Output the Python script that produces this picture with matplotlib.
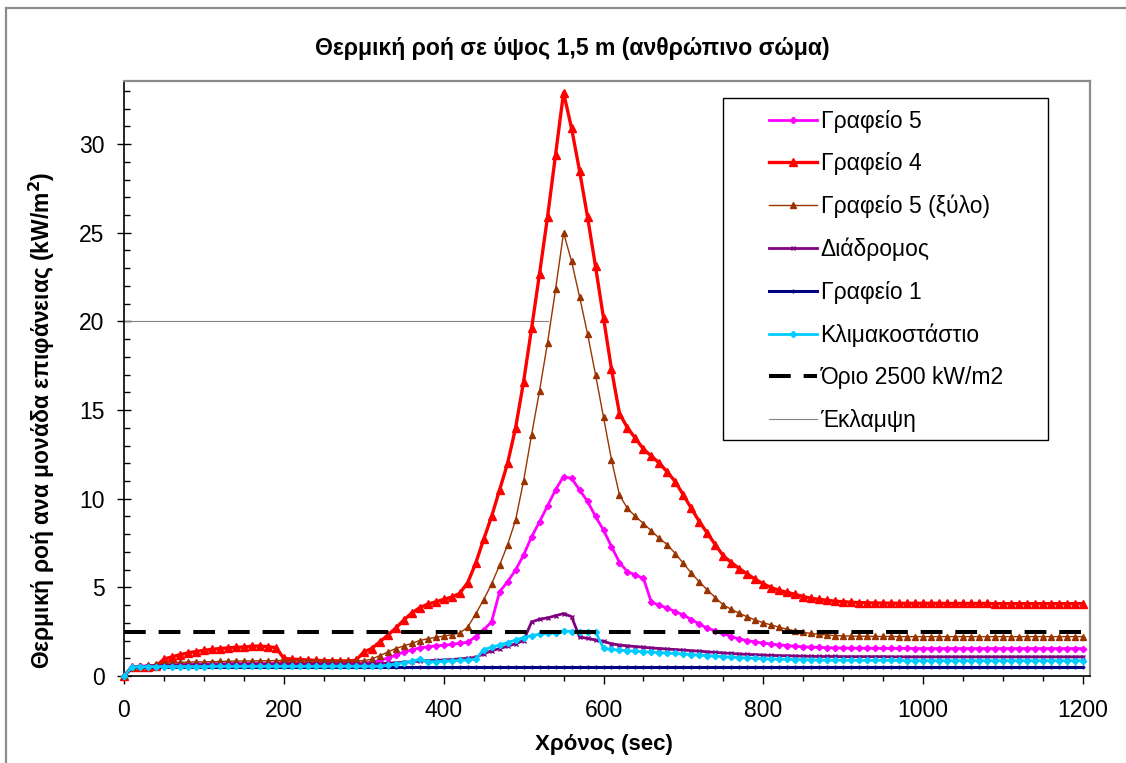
import matplotlib
matplotlib.use("Agg")
import matplotlib.pyplot as plt
from matplotlib.patches import Rectangle
from matplotlib.ticker import MultipleLocator

plt.rcParams['font.family'] = ['Liberation Sans', 'DejaVu Sans']

# Sampling times (s)
time_s = [0, 10, 20, 30, 40, 50, 60, 70, 80, 90,
          100, 110, 120, 130, 140, 150, 160, 170, 180, 190,
          200, 210, 220, 230, 240, 250, 260, 270, 280, 290,
          300, 310, 320, 330, 340, 350, 360, 370, 380, 390,
          400, 410, 420, 430, 440, 450, 460, 470, 480, 490,
          500, 510, 520, 530, 540, 550, 560, 570, 580, 590,
          600, 610, 620, 630, 640, 650, 660, 670, 680, 690,
          700, 710, 720, 730, 740, 750, 760, 770, 780, 790,
          800, 810, 820, 830, 840, 850, 860, 870, 880, 890,
          900, 910, 920, 930, 940, 950, 960, 970, 980, 990,
          1000, 1010, 1020, 1030, 1040, 1050, 1060, 1070, 1080, 1090,
          1100, 1110, 1120, 1130, 1140, 1150, 1160, 1170, 1180, 1190,
          1200]

# Heat flux at 1.5 m (kW/m2)
grafeio5 = [0.0, 0.50, 0.55, 0.58, 0.60, 0.62, 0.64, 0.65, 0.66, 0.67,
            0.68, 0.69, 0.70, 0.70, 0.71, 0.71, 0.72, 0.72, 0.72, 0.73,
            0.73, 0.73, 0.73, 0.73, 0.73, 0.73, 0.73, 0.73, 0.73, 0.73,
            0.74, 0.78, 0.88, 1.00, 1.18, 1.35, 1.48, 1.58, 1.65, 1.70,
            1.74, 1.78, 1.85, 1.90, 2.22, 2.60, 3.06, 4.75, 5.32, 5.98,
            6.82, 7.85, 8.70, 9.60, 10.50, 11.25, 11.15, 10.50, 9.85, 9.00,
            8.23, 7.30, 6.40, 5.88, 5.70, 5.50, 4.15, 4.00, 3.82, 3.63,
            3.44, 3.18, 2.93, 2.69, 2.55, 2.40, 2.22, 2.08, 2.00, 1.92,
            1.86, 1.80, 1.76, 1.72, 1.68, 1.65, 1.63, 1.61, 1.60, 1.59,
            1.58, 1.57, 1.57, 1.57, 1.56, 1.56, 1.56, 1.56, 1.56, 1.55,
            1.55, 1.55, 1.55, 1.55, 1.55, 1.55, 1.55, 1.55, 1.55, 1.55,
            1.55, 1.55, 1.55, 1.55, 1.55, 1.55, 1.55, 1.55, 1.55, 1.55,
            1.55]

grafeio4 = [0.0, 0.50, 0.50, 0.52, 0.55, 0.95, 1.08, 1.20, 1.30, 1.38,
            1.45, 1.50, 1.55, 1.58, 1.62, 1.63, 1.68, 1.69, 1.65, 1.60,
            1.00, 0.95, 0.93, 0.90, 0.88, 0.87, 0.86, 0.85, 0.85, 0.88,
            1.35, 1.55, 1.92, 2.30, 2.70, 3.15, 3.55, 3.85, 4.05, 4.18,
            4.32, 4.45, 4.66, 5.26, 6.35, 7.70, 9.00, 10.50, 12.00, 14.00,
            16.60, 19.60, 22.70, 25.90, 29.40, 32.90, 30.90, 28.50, 25.90, 23.10,
            20.20, 17.30, 14.80, 14.00, 13.40, 12.80, 12.40, 12.00, 11.50, 10.95,
            10.20, 9.45, 8.70, 8.05, 7.40, 6.77, 6.40, 6.05, 5.75, 5.45,
            5.20, 4.98, 4.83, 4.72, 4.60, 4.48, 4.38, 4.32, 4.27, 4.22,
            4.19, 4.16, 4.14, 4.13, 4.12, 4.11, 4.11, 4.10, 4.10, 4.10,
            4.10, 4.10, 4.10, 4.09, 4.09, 4.09, 4.09, 4.09, 4.09, 4.08,
            4.08, 4.08, 4.08, 4.08, 4.08, 4.08, 4.08, 4.08, 4.08, 4.08,
            4.08]

grafeio5_xylo = [0.0, 0.50, 0.55, 0.60, 0.65, 0.70, 0.75, 0.77, 0.78, 0.80,
                 0.80, 0.81, 0.82, 0.83, 0.84, 0.85, 0.85, 0.86, 0.86, 0.87,
                 0.87, 0.87, 0.86, 0.86, 0.85, 0.85, 0.85, 0.85, 0.85, 0.85,
                 0.86, 0.95, 1.15, 1.35, 1.55, 1.69, 1.84, 2.00, 2.10, 2.18,
                 2.25, 2.33, 2.42, 2.75, 3.50, 4.30, 5.20, 6.25, 7.40, 8.80,
                 11.00, 13.60, 16.10, 18.80, 21.80, 25.00, 23.40, 21.40, 19.30, 17.00,
                 14.60, 12.20, 10.20, 9.45, 9.00, 8.60, 8.18, 7.76, 7.40, 6.90,
                 6.35, 5.80, 5.30, 4.85, 4.42, 4.00, 3.76, 3.53, 3.34, 3.16,
                 3.00, 2.88, 2.75, 2.64, 2.54, 2.46, 2.40, 2.35, 2.31, 2.28,
                 2.26, 2.25, 2.24, 2.24, 2.23, 2.23, 2.23, 2.22, 2.22, 2.22,
                 2.22, 2.22, 2.22, 2.22, 2.22, 2.22, 2.22, 2.22, 2.22, 2.22,
                 2.22, 2.22, 2.22, 2.22, 2.22, 2.22, 2.22, 2.22, 2.22, 2.22,
                 2.22]

diadromos = [0.0, 0.50, 0.52, 0.55, 0.57, 0.59, 0.60, 0.61, 0.62, 0.63,
             0.63, 0.64, 0.64, 0.65, 0.65, 0.65, 0.66, 0.66, 0.66, 0.66,
             0.67, 0.67, 0.67, 0.67, 0.67, 0.67, 0.67, 0.67, 0.67, 0.67,
             0.67, 0.68, 0.70, 0.72, 0.75, 0.77, 0.80, 0.83, 0.86, 0.88,
             0.90, 0.93, 0.96, 1.00, 1.05, 1.25, 1.42, 1.55, 1.68, 1.82,
             2.00, 3.05, 3.20, 3.28, 3.40, 3.52, 3.35, 2.20, 2.12, 2.03,
             1.95, 1.82, 1.74, 1.70, 1.66, 1.62, 1.58, 1.55, 1.52, 1.49,
             1.46, 1.43, 1.40, 1.36, 1.33, 1.30, 1.27, 1.24, 1.22, 1.20,
             1.18, 1.16, 1.15, 1.14, 1.13, 1.12, 1.11, 1.10, 1.10, 1.10,
             1.09, 1.09, 1.09, 1.09, 1.09, 1.09, 1.08, 1.08, 1.08, 1.08,
             1.08, 1.08, 1.08, 1.08, 1.08, 1.08, 1.08, 1.08, 1.08, 1.08,
             1.08, 1.08, 1.08, 1.08, 1.08, 1.08, 1.08, 1.08, 1.08, 1.08,
             1.08]

grafeio1 = [0.0, 0.48, 0.48, 0.48, 0.48, 0.48, 0.48, 0.48, 0.48, 0.48,
            0.48, 0.48, 0.48, 0.48, 0.48, 0.48, 0.48, 0.48, 0.48, 0.48,
            0.48, 0.48, 0.48, 0.48, 0.48, 0.48, 0.48, 0.48, 0.48, 0.48,
            0.48, 0.48, 0.48, 0.48, 0.48, 0.48, 0.48, 0.48, 0.48, 0.48,
            0.48, 0.48, 0.48, 0.48, 0.48, 0.48, 0.48, 0.48, 0.48, 0.48,
            0.48, 0.48, 0.48, 0.48, 0.48, 0.48, 0.48, 0.48, 0.48, 0.48,
            0.48, 0.48, 0.48, 0.48, 0.48, 0.48, 0.48, 0.48, 0.48, 0.48,
            0.48, 0.48, 0.48, 0.48, 0.48, 0.48, 0.48, 0.48, 0.48, 0.48,
            0.48, 0.48, 0.48, 0.48, 0.48, 0.48, 0.48, 0.48, 0.48, 0.48,
            0.48, 0.48, 0.48, 0.48, 0.48, 0.48, 0.48, 0.48, 0.48, 0.48,
            0.48, 0.48, 0.48, 0.48, 0.48, 0.48, 0.48, 0.48, 0.48, 0.48,
            0.48, 0.48, 0.48, 0.48, 0.48, 0.48, 0.48, 0.48, 0.48, 0.48,
            0.48]

klimakostasio = [0.0, 0.50, 0.52, 0.53, 0.53, 0.53, 0.53, 0.53, 0.53, 0.53,
                 0.53, 0.54, 0.54, 0.54, 0.54, 0.54, 0.54, 0.54, 0.54, 0.54,
                 0.54, 0.54, 0.54, 0.54, 0.54, 0.54, 0.55, 0.55, 0.55, 0.55,
                 0.55, 0.55, 0.55, 0.60, 0.68, 0.75, 0.82, 0.95, 0.80, 0.81,
                 0.83, 0.86, 0.88, 0.90, 0.95, 1.48, 1.62, 1.75, 1.88, 2.03,
                 2.17, 2.28, 2.35, 2.40, 2.45, 2.55, 2.50, 2.50, 2.50, 2.48,
                 1.56, 1.50, 1.46, 1.43, 1.40, 1.37, 1.35, 1.32, 1.30, 1.27,
                 1.24, 1.21, 1.18, 1.15, 1.12, 1.09, 1.06, 1.04, 1.02, 1.00,
                 0.98, 0.96, 0.95, 0.94, 0.93, 0.92, 0.91, 0.90, 0.90, 0.89,
                 0.89, 0.89, 0.88, 0.88, 0.88, 0.88, 0.88, 0.88, 0.87, 0.87,
                 0.87, 0.87, 0.87, 0.87, 0.87, 0.87, 0.87, 0.87, 0.87, 0.87,
                 0.87, 0.87, 0.87, 0.87, 0.87, 0.87, 0.87, 0.87, 0.87, 0.87,
                 0.87]

limit_value = 2.5          # tenability limit
flashover_value = 20.0     # flashover criterion
flashover_span = [0, 530]  # time range of the flashover reference line
limit_span = [0, 1200]

series_labels = ['Γραφείο 5', 'Γραφείο 4', 'Γραφείο 5 (ξύλο)', 'Διάδρομος',
                 'Γραφείο 1', 'Κλιμακοστάστιο', 'Όριο 2500 kW/m2', 'Έκλαμψη']

x_ticks = [0, 200, 400, 600, 800, 1000, 1200]
y_ticks = [0, 5, 10, 15, 20, 25, 30]

W, H = 1126, 763
fig = plt.figure(figsize=(W / 100, H / 100), dpi=100)
fig.patch.set_facecolor('white')

ax = fig.add_axes([124 / W, (H - 676) / H, 966 / W, 595 / H])
ax.set_xlim(0, 1200 * 966 / 959)
ax.set_ylim(0, 595 / 17.73)

styles = [
    dict(color='#FF00FF', lw=2.0, marker='D', ms=3.2),
    dict(color='#FF0000', lw=2.4, marker='^', ms=5.5),
    dict(color='#993300', lw=1.0, marker='^', ms=5.0),
    dict(color='#800080', lw=2.0, marker='x', ms=3.5, mew=1.0),
    dict(color='#000080', lw=2.2, marker='+', ms=3.5, mew=1.0),
    dict(color='#00CCFF', lw=2.0, marker='D', ms=3.2),
]
datasets = [grafeio5, grafeio4, grafeio5_xylo, diadromos, grafeio1, klimakostasio]

handles = []
for data, st, lab in zip(datasets, styles, series_labels[:6]):
    h, = ax.plot(time_s, data, label=lab, clip_on=False, zorder=3,
                 mfc=st['color'], mec=st['color'], **st)
    handles.append(h)

h_lim, = ax.plot(limit_span, [limit_value, limit_value], color='black', lw=2.9,
                 ls=(0, (5.4, 3.2)), label=series_labels[6], zorder=4)
h_fl, = ax.plot(flashover_span, [flashover_value, flashover_value], color='#808080',
                lw=0.8, label=series_labels[7], zorder=2)
handles += [h_lim, h_fl]

# Axes styling
for side in ('left', 'bottom'):
    ax.spines[side].set_color('black')
    ax.spines[side].set_linewidth(1.2)
for side in ('top', 'right'):
    ax.spines[side].set_color('#8c8c8c')
    ax.spines[side].set_linewidth(1.6)

ax.set_xticks(x_ticks)
ax.set_yticks(y_ticks)
ax.xaxis.set_minor_locator(MultipleLocator(50))
ax.yaxis.set_minor_locator(MultipleLocator(1))
ax.tick_params(axis='x', which='major', direction='out', length=5.5, width=1.0,
               labelsize=16.5, pad=11)
ax.tick_params(axis='x', which='minor', direction='out', length=3.6, width=1.0)
ax.tick_params(axis='y', which='major', direction='inout', length=10, width=1.0,
               labelsize=16.5, pad=9)
ax.tick_params(axis='y', which='minor', direction='in', length=4.5, width=1.0)

# Titles
fig.text(572 / W, 1 - 55 / H, 'Θερμική ροή σε ύψος 1,5 m (ανθρώπινο σώμα)',
         ha='center', va='baseline', fontsize=16.6, fontweight='bold')
fig.text(603.5 / W, 1 - 750 / H, 'Χρόνος (sec)', ha='center', va='baseline',
         fontsize=16, fontweight='bold')
fig.text(42 / W, 1 - 420.5 / H, 'Θερμική ροή ανα μονάδα επιφάνειας (kW/m$^\\mathbf{2}$)',
         ha='center', va='center', rotation=90, fontsize=16.5, fontweight='bold')

# Legend with a drawn frame
fig.patches.append(Rectangle((723 / W, 1 - 440 / H), (1048 - 723) / W, (440 - 98) / H,
                             transform=fig.transFigure, fill=True, facecolor='white',
                             edgecolor='black', lw=1.0, zorder=5))
leg = fig.legend(handles=handles, loc='upper left',
                 bbox_to_anchor=(769 / W, 1 - 110 / H), frameon=False,
                 fontsize=16.5, handlelength=2.1, handletextpad=0.15,
                 labelspacing=0.85, borderpad=0, borderaxespad=0)
leg.set_zorder(6)

# Outer chart border
fig.patches.append(Rectangle((6 / W, -0.05), 1.2, 1 - 8 / H + 0.05,
                             transform=fig.transFigure, fill=False,
                             edgecolor='#8c8c8c', lw=1.6, zorder=0))

fig.savefig('out.png', dpi=100)
